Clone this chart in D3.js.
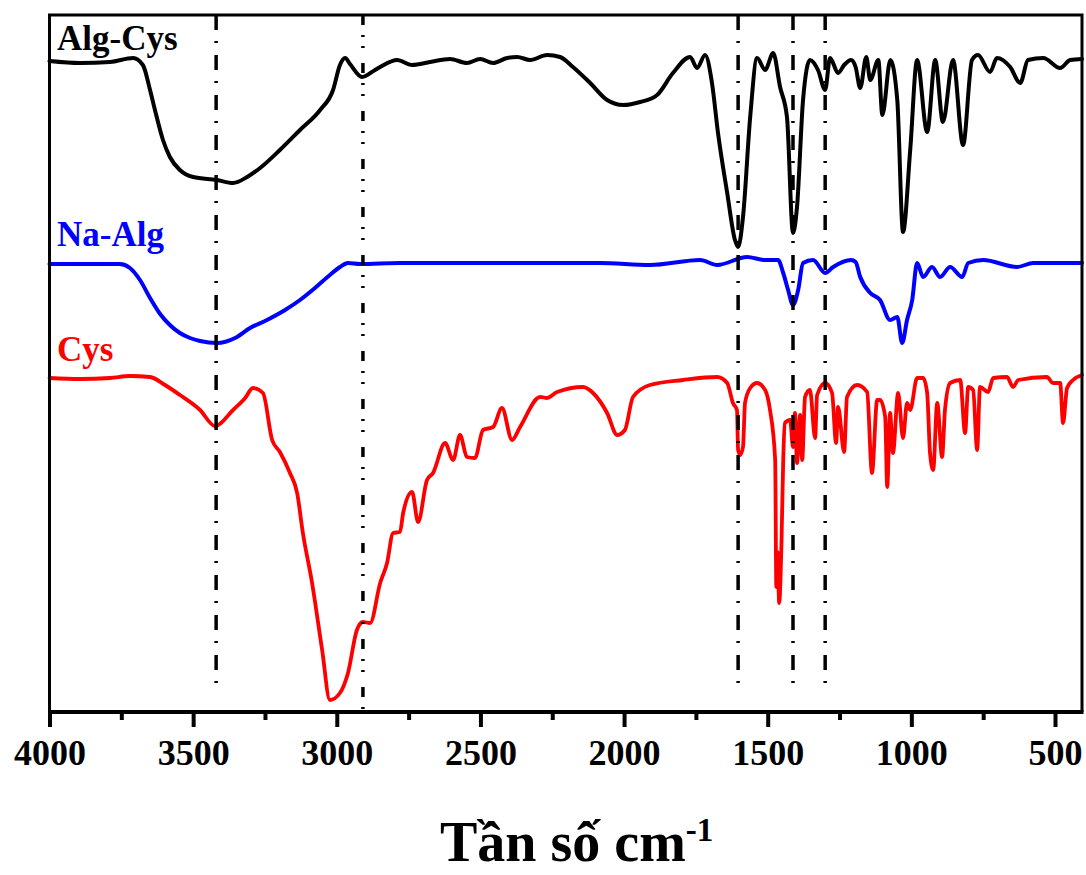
<!DOCTYPE html>
<html>
<head>
<meta charset="utf-8">
<script src="https://cdn.jsdelivr.net/npm/d3@7/dist/d3.min.js"></script>
<style>
  html, body { margin: 0; padding: 0; background: #fff; }
  svg { display: block; }
</style>
</head>
<body>
<svg id="chart" width="1086" height="875"></svg>
<script>
// FTIR spectra, [wavenumber (cm-1), intensity (a.u., stacked)]
const algCys = [
  [4000,651],[3894,649],[3789,650],[3709,654],[3675,647],[3650,622],[3633,602],[3605,572],
  [3581,555],[3546,542],[3500,535],[3417,532],[3361,529],[3312,535],[3267,544],[3198,562],
  [3128,582],[3058,602],[3013,622],[2989,647],[2971,654],[2954,648],[2912,635],[2867,642],
  [2849,645],[2790,652],[2738,647],[2675,650],[2606,653],[2547,649],[2501,653],[2456,649],
  [2407,654],[2372,655],[2327,652],[2268,657],[2223,655],[2178,645],[2118,629],[2059,612],
  [2003,607],[1944,610],[1885,617],[1830,639],[1770,655],[1746,644],[1718,657],[1694,629],
  [1673,579],[1641,519],[1614,472],[1603,465],[1586,495],[1561,595],[1537,654],[1509,642],
  [1481,659],[1457,625],[1433,595],[1412,479],[1398,505],[1377,612],[1353,652],[1325,642],
  [1300,622],[1283,654],[1255,639],[1234,647],[1210,652],[1194,645],[1178,624],[1157,655],
  [1143,632],[1115,652],[1101,597],[1073,652],[1049,612],[1029,480],[1004,562],[980,652],
  [945,580],[917,652],[890,590],[855,652],[820,567],[789,652],[768,657],[726,640],[702,654],
  [656,645],[621,629],[594,652],[541,654],[482,644],[447,652],[406,653]
];

const naAlg = [
  [4000,448],[3755,448],[3720,444],[3685,432],[3650,414],[3615,398],[3581,387],[3546,379],
  [3511,374],[3476,371],[3417,369],[3354,374],[3302,384],[3243,392],[3180,402],[3128,412],
  [3076,424],[3024,437],[2989,445],[2961,449],[2919,448],[2780,449],[2432,449],[2084,449],
  [1910,447],[1735,452],[1676,447],[1572,455],[1509,452],[1464,452],[1446,439],[1429,422],
  [1412,407],[1394,422],[1377,449],[1342,452],[1300,439],[1272,445],[1210,452],[1194,450],
  [1178,435],[1143,419],[1109,412],[1074,392],[1049,395],[1032,369],[1015,392],[997,412],
  [980,449],[959,435],[928,445],[900,435],[865,445],[823,435],[802,449],[750,452],[632,445],
  [576,449],[406,449]
];

const cys = [
  [4000,334],[3894,333],[3789,334],[3720,336],[3650,335],[3598,327],[3546,317],[3476,302],
  [3424,286],[3361,302],[3319,314],[3292,324],[3257,319],[3225,272],[3198,260],[3163,239],
  [3138,219],[3118,179],[3086,129],[3051,62],[3024,12],[2989,19],[2961,39],[2930,82],
  [2909,90],[2884,89],[2849,129],[2825,149],[2804,179],[2780,180],[2769,199],[2738,220],
  [2717,190],[2686,232],[2665,239],[2623,269],[2595,252],[2571,277],[2547,255],[2519,254],
  [2491,282],[2456,285],[2425,304],[2390,272],[2362,285],[2292,315],[2268,314],[2233,320],
  [2143,325],[2108,319],[2059,299],[2024,277],[1997,282],[1969,315],[1910,327],[1795,332],
  [1676,335],[1641,329],[1621,309],[1607,302],[1603,262],[1596,257],[1586,265],[1579,309],
  [1561,324],[1537,329],[1509,322],[1492,302],[1474,252],[1470,125],[1466,160],[1460,109],
  [1452,170],[1446,252],[1440,289],[1422,292],[1412,265],[1405,299],[1398,249],[1387,297],
  [1380,252],[1370,315],[1353,322],[1335,274],[1328,317],[1300,329],[1276,319],[1262,269],
  [1255,305],[1234,260],[1224,315],[1189,327],[1154,320],[1137,239],[1119,312],[1109,312],
  [1091,295],[1084,225],[1074,299],[1064,259],[1046,319],[1029,274],[1015,309],[1004,302],
  [980,334],[959,334],[945,319],[935,259],[924,242],[910,309],[893,255],[883,302],[865,329],
  [830,332],[813,279],[802,325],[785,322],[771,262],[761,325],[733,320],[715,334],[667,335],
  [646,325],[628,332],[528,335],[507,329],[482,329],[472,289],[458,324],[437,332],[406,337]
];

const seriesNames = ["Alg-Cys", "Na-Alg", "Cys"];
const majorTicks = [4000, 3500, 3000, 2500, 2000, 1500, 1000, 500];
const minorTicks = [3750, 3250, 2750, 2250, 1750, 1250, 750];
// band positions marked across the stack
const markerBands = [3420, 2909, 1603, 1412, 1300];
const axisTitle = "Tần số cm";
const axisTitleSup = "-1";

// ---- layout ----
const plot = { left: 49.5, right: 1082, top: 15, bottom: 712 };
const serif = "'Liberation Serif', 'Times New Roman', serif";

const svg = d3.select("#chart");

const x = d3.scaleLinear().domain([4000, 406]).range([plot.left, plot.right]);
const y = d3.scaleLinear().domain([0, 697]).range([plot.bottom, plot.top]);

const series = [
  { name: seriesNames[0], data: algCys, color: "#000000", width: 4,   labelY: 50 },
  { name: seriesNames[1], data: naAlg,  color: "#0000ff", width: 4,   labelY: 246 },
  { name: seriesNames[2], data: cys,    color: "#ff0000", width: 3.8, labelY: 361 }
];

const line = d3.line()
  .x(d => x(d[0]))
  .y(d => y(d[1]))
  .curve(d3.curveMonotoneX);

// spectra
svg.append("g").attr("class", "spectra")
  .selectAll("path")
  .data(series)
  .join("path")
  .attr("d", d => line(d.data))
  .attr("fill", "none")
  .attr("stroke", d => d.color)
  .attr("stroke-width", d => d.width)
  .attr("stroke-linejoin", "round")
  .attr("stroke-linecap", "round");

// series labels
svg.append("g").attr("class", "labels")
  .selectAll("text")
  .data(series)
  .join("text")
  .attr("x", 57)
  .attr("y", d => d.labelY)
  .attr("fill", d => d.color)
  .style("font-family", serif)
  .style("font-weight", "bold")
  .style("font-size", "35px")
  .text(d => d.name);

// vertical marker lines
const markerStyle = [
  { end: 688, dash: "15,11,2,12" },
  { end: 716, dash: "10,10,2,9,2,15" },
  { end: 694, dash: "15,11,2,12" },
  { end: 694, dash: "15,11,2,12" },
  { end: 686, dash: "15,11,2,12" }
];
svg.append("g").attr("class", "markers")
  .selectAll("line")
  .data(markerBands)
  .join("line")
  .attr("x1", d => x(d))
  .attr("x2", d => x(d))
  .attr("y1", plot.top)
  .attr("y2", (d, i) => markerStyle[i].end)
  .attr("stroke", "#000")
  .attr("stroke-width", 3.5)
  .attr("stroke-dasharray", (d, i) => markerStyle[i].dash);

// frame
const frame = svg.append("g").attr("class", "frame");
frame.append("path")
  .attr("d", `M${plot.left},${plot.bottom} V${plot.top} H${plot.right} V${plot.bottom}`)
  .attr("fill", "none")
  .attr("stroke", "#000")
  .attr("stroke-width", 3);
frame.append("line")
  .attr("x1", plot.left - 1.5).attr("x2", plot.right + 1.5)
  .attr("y1", plot.bottom).attr("y2", plot.bottom)
  .attr("stroke", "#000")
  .attr("stroke-width", 4);

// bottom axis: major ticks with labels, minor ticks without
const axisG = svg.append("g")
  .attr("class", "x-axis")
  .attr("transform", `translate(0,${plot.bottom})`);

axisG.call(
  d3.axisBottom(x).tickValues(majorTicks).tickSize(15).tickFormat(d3.format("d"))
);
axisG.select(".domain").remove();
axisG.selectAll(".tick line").attr("stroke", "#000").attr("stroke-width", 4);
axisG.selectAll(".tick text")
  .attr("y", 53)
  .attr("dy", 0)
  .attr("fill", "#000")
  .style("font-family", serif)
  .style("font-weight", "bold")
  .style("font-size", "36px");

const minorG = svg.append("g")
  .attr("class", "x-axis-minor")
  .attr("transform", `translate(0,${plot.bottom})`);
minorG.call(d3.axisBottom(x).tickValues(minorTicks).tickSize(8).tickFormat(""));
minorG.select(".domain").remove();
minorG.selectAll(".tick line").attr("stroke", "#000").attr("stroke-width", 4);

// axis title with superscript
const title = svg.append("text")
  .attr("x", 440)
  .attr("y", 861)
  .attr("fill", "#000")
  .style("font-family", serif)
  .style("font-weight", "bold")
  .style("font-size", "56px");
title.append("tspan").text(axisTitle);
title.append("tspan")
  .attr("dy", -20)
  .style("font-size", "33px")
  .text(axisTitleSup);
</script>
</body>
</html>
